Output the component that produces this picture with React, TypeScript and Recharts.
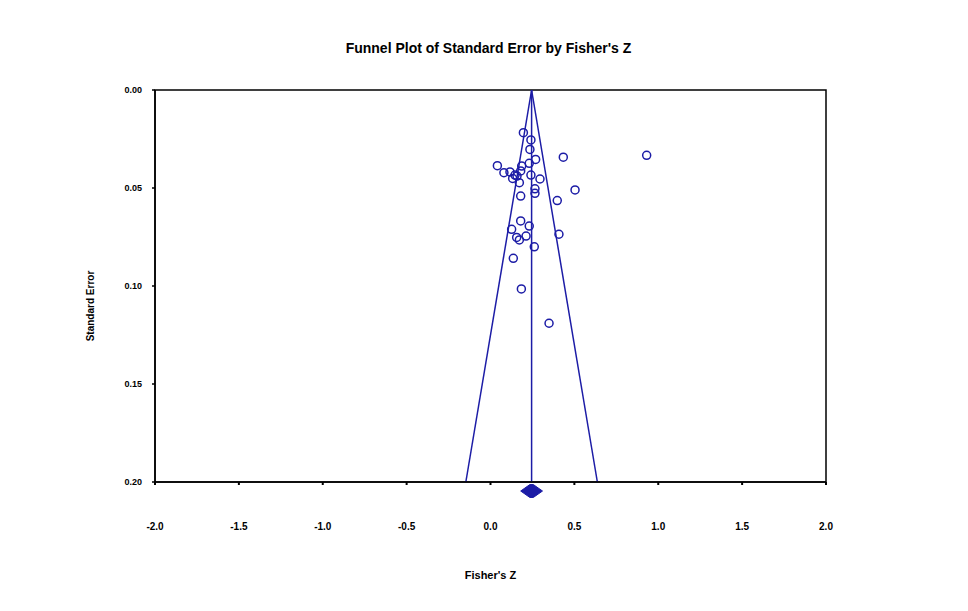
import { ComposedChart, Scatter, XAxis, YAxis, ReferenceLine, ReferenceArea } from 'recharts';

// Studien: Fisher's Z und Standardfehler
const fisherZ = [
  0.196, 0.241, 0.235, 0.269, 0.434, 0.931, 0.231, 0.186, 0.041, 0.08, 0.116, 0.132,
  0.158, 0.146, 0.18, 0.241, 0.295, 0.172, 0.504, 0.265, 0.265, 0.18, 0.398, 0.18,
  0.231, 0.126, 0.408, 0.156, 0.172, 0.212, 0.261, 0.136, 0.184, 0.349,
];
const standardError = [
  0.0218, 0.0255, 0.0303, 0.0354, 0.0343, 0.0333, 0.0374, 0.0388, 0.0386, 0.0422, 0.0418, 0.0451,
  0.0439, 0.0434, 0.0413, 0.0434, 0.0454, 0.0473, 0.051, 0.0504, 0.0527, 0.0541, 0.0564, 0.0668,
  0.0694, 0.0711, 0.0736, 0.0752, 0.0765, 0.0745, 0.08, 0.0859, 0.1015, 0.119,
];

// Gesamteffekt und Konfidenzintervall
const summaryZ = 0.245;
const summaryCI = [0.18, 0.31];
const diamondSE = [0.2013, 0.2079];
const maxSE = 0.2;

const xTicks = [-2, -1.5, -1, -0.5, 0, 0.5, 1, 1.5, 2];
const yTicks = [0, 0.05, 0.1, 0.15, 0.2];

const points = fisherZ.map((z, i) => ({ x: z, y: standardError[i] }));

const BLUE = '#1c1ca6';
const NARROW = '"Liberation Sans Narrow", "Arial Narrow", "Liberation Sans", Arial, sans-serif';
const SANS = '"Liberation Sans", Arial, sans-serif';

const OpenCircle = (props: any) => (
  <circle cx={props.cx} cy={props.cy} r={4} fill="none" stroke={BLUE} strokeWidth={1.5} />
);

const Diamond = (props: any) => {
  const { x, y, width, height } = props;
  const cx = x + width / 2;
  const cy = y + height / 2;
  const f = width * 0.08;
  const pts = `${x},${cy} ${cx - f},${y} ${cx + f},${y} ${x + width},${cy} ${cx + f},${y + height} ${cx - f},${y + height}`;
  return <polygon points={pts} fill={BLUE} stroke={BLUE} strokeWidth={1} strokeLinejoin="round" />;
};

const YLabel = (props: any) => {
  const vb = props.viewBox;
  const x = vb.x + 15;
  const y = vb.y + vb.height / 2 + 20;
  return (
    <text x={x} y={y} transform={`rotate(-90 ${x} ${y})`} textAnchor="middle" dominantBaseline="central"
      fontFamily={SANS} fontWeight="bold" fontSize={10} fill="#000">
      Standard Error
    </text>
  );
};

const XLabel = (props: any) => {
  const vb = props.viewBox;
  return (
    <text x={vb.x + vb.width / 2} y={vb.y + 93} textAnchor="middle" dominantBaseline="central"
      fontFamily={NARROW} fontWeight="bold" fontSize={11} fill="#000">
      Fisher's Z
    </text>
  );
};

export default function App() {
  return (
    <div style={{ position: 'relative', width: 960, height: 600 }}>
      <div style={{
        position: 'absolute', top: 32, left: 0, width: 961, textAlign: 'center',
        fontFamily: NARROW, fontWeight: 'bold', fontSize: 14, color: '#000',
      }}>
        Funnel Plot of Standard Error by Fisher's Z
      </div>
      <ComposedChart width={960} height={600} margin={{ top: 82, right: 142, left: 67, bottom: 26 }}>
        <XAxis
          type="number"
          dataKey="x"
          domain={[-2, 2]}
          ticks={xTicks}
          allowDataOverflow
          tickFormatter={(v: number) => v.toFixed(1)}
          height={100}
          tickSize={3}
          tickMargin={38}
          axisLine={{ stroke: '#000', strokeWidth: 1.5 }}
          tickLine={{ stroke: '#000', strokeWidth: 2 }}
          tick={{ fill: '#000', fontFamily: NARROW, fontWeight: 'bold', fontSize: 10 }}
          label={<XLabel />}
        />
        <YAxis
          type="number"
          dataKey="y"
          domain={[0, maxSE]}
          reversed
          ticks={yTicks}
          allowDataOverflow
          tickFormatter={(v: number) => v.toFixed(2)}
          width={80}
          tickSize={3}
          tickMargin={10}
          axisLine={{ stroke: '#000', strokeWidth: 1.5 }}
          tickLine={{ stroke: '#000', strokeWidth: 1.5 }}
          tick={{ fill: '#000', fontFamily: SANS, fontWeight: 'bold', fontSize: 9 }}
          label={<YLabel />}
        />
        {/* Rahmen */}
        <ReferenceArea x1={-2} x2={2} y1={0} y2={maxSE} fill="none" stroke="#000" strokeWidth={1.5} fillOpacity={0} />
        {/* Trichter */}
        <ReferenceLine segment={[{ x: summaryZ - 1.96 * maxSE, y: maxSE }, { x: summaryZ, y: 0 }]} stroke={BLUE} strokeWidth={1.5} />
        <ReferenceLine segment={[{ x: summaryZ, y: 0 }, { x: summaryZ + 1.96 * maxSE, y: maxSE }]} stroke={BLUE} strokeWidth={1.5} />
        <ReferenceLine x={summaryZ} stroke={BLUE} strokeWidth={1.5} />
        <Scatter data={points} shape={<OpenCircle />} isAnimationActive={false} />
        {/* Gesamteffekt */}
        <ReferenceArea
          x1={summaryCI[0]}
          x2={summaryCI[1]}
          y1={diamondSE[0]}
          y2={diamondSE[1]}
          ifOverflow="visible"
          shape={(p: any) => <Diamond {...p} />}
        />
      </ComposedChart>
    </div>
  );
}
